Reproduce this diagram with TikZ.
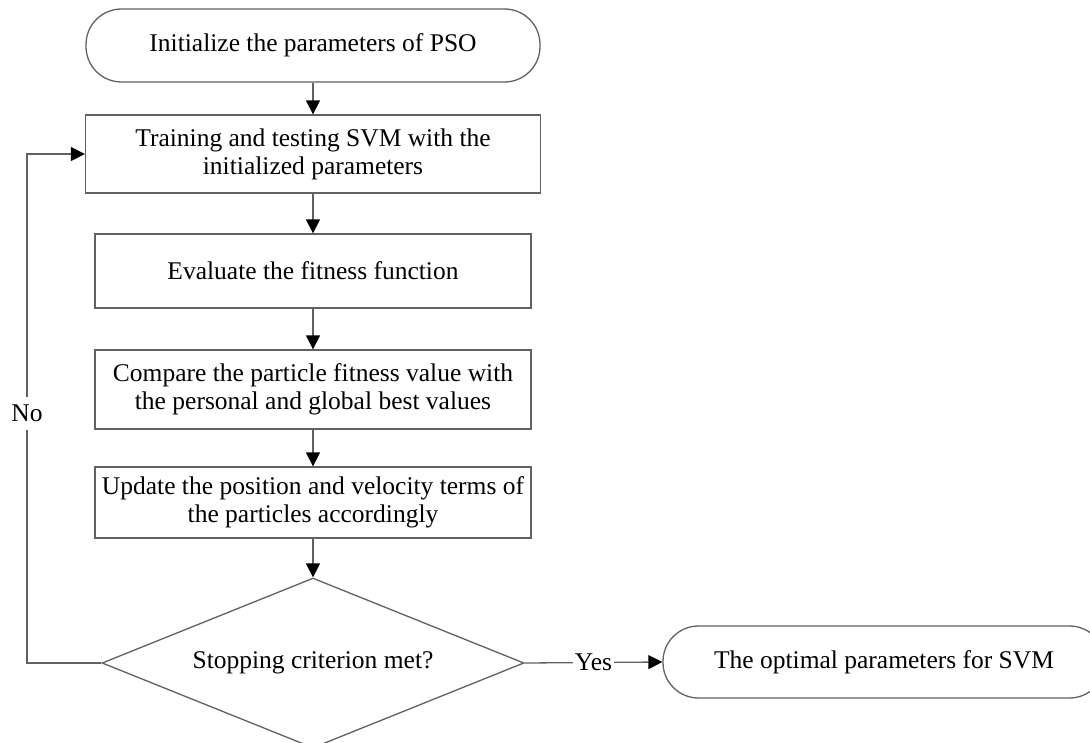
\documentclass[tikz,border=0pt]{standalone}
\usepackage{fontspec}
\setmainfont{Liberation Serif}
\usetikzlibrary{shapes.geometric,arrows.meta}
\begin{document}
\begin{tikzpicture}[x=1pt,y=-1pt,
  every node/.style={font=\fontsize{25.5}{28}\selectfont, inner sep=0pt, align=center},
  line/.style={draw=black!62, line width=1.3pt},
  procbox/.style={line, rectangle, minimum width=436pt},
  term/.style={line, rectangle, rounded corners=35.5pt},
  decision/.style={line, diamond, aspect=2.48, minimum width=422pt, minimum height=170pt},
  arr/.style={line, -{Triangle[length=14pt,width=14pt,color=black]}},
  lbl/.style={fill=white},
]
\useasboundingbox[fill=white] (0,0) rectangle (1090,742);

% process steps
\node[term, minimum width=454pt, minimum height=73pt] (t1) at (313,45.5) {Initialize the parameters of PSO};
\node[line, rectangle, minimum width=455pt, minimum height=78pt] (b1) at (313,154)
  {Training and testing SVM with the\\initialized parameters};
\node[procbox, minimum height=74pt] (b2) at (313,271) {Evaluate the fitness function};
\node[procbox, minimum height=79pt] (b3) at (313,389.5)
  {Compare the particle fitness value with\\the personal and global best values};
\node[procbox, minimum height=71pt] (b4) at (313,502.5)
  {Update the position and velocity terms of\\the particles accordingly};
\node[decision] (dec) at (313,663) {Stopping criterion met?};
\node[term, minimum width=442pt, minimum height=72pt] (t2) at (884,662) {The optimal parameters for SVM};

% flow
\draw[arr] (t1.south) -- (b1.north);
\draw[arr] (b1.south) -- (b2.north);
\draw[arr] (b2.south) -- (b3.north);
\draw[arr] (b3.south) -- (b4.north);
\draw[arr] (b4.south) -- (dec.north);

% loop back when the criterion is not met
\coordinate (loopc) at (27,663);
\draw[arr] (dec.west) -- (loopc) |- node[lbl, pos=0.245, inner ysep=8pt] {No} (b1.west);

% exit
\draw[arr] (dec.east) -- node[lbl, inner xsep=2pt] {Yes} (t2.west);
\end{tikzpicture}
\end{document}
